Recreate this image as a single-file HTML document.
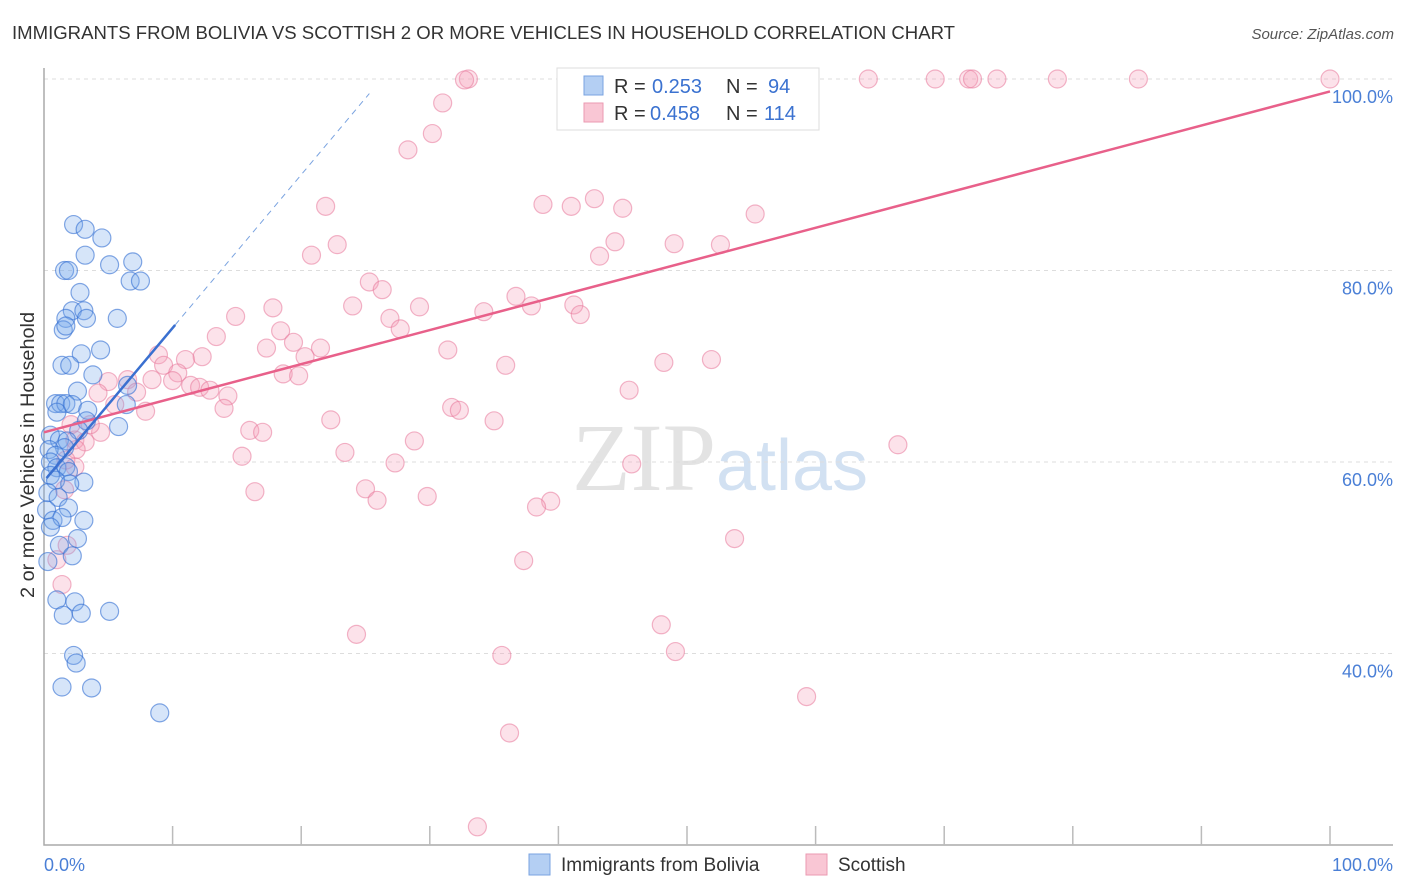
<!DOCTYPE html>
<html><head><meta charset="utf-8"><style>
body{margin:0;background:#fff;font-family:"Liberation Sans",sans-serif}
svg{display:block}
</style></head><body>
<svg id="chart" width="1406" height="892" xmlns="http://www.w3.org/2000/svg">
<text x="12" y="39" font-size="18" fill="#333" textLength="943" lengthAdjust="spacingAndGlyphs">IMMIGRANTS FROM BOLIVIA VS SCOTTISH 2 OR MORE VEHICLES IN HOUSEHOLD CORRELATION CHART</text>
<text x="1394" y="39" font-size="15" fill="#555" text-anchor="end" font-style="italic">Source: ZipAtlas.com</text>
<text x="720" y="490" font-size="96" fill="#ddd" text-anchor="middle" font-family="Liberation Serif" opacity="0.8">ZIP<tspan fill="#c8daf0" font-family="Liberation Sans" font-size="72">atlas</tspan></text>
<g id="grid"></g>
<g id="axes"></g>
<g id="points"></g>
<g id="trends"></g>
<text transform="translate(34,455) rotate(-90)" font-size="19" fill="#333" text-anchor="middle" textLength="286" lengthAdjust="spacingAndGlyphs">2 or more Vehicles in Household</text>
<g>
<rect x="557" y="68" width="262" height="62" fill="#fff" stroke="#ddd"/>
<rect x="584" y="76" width="19" height="19" fill="#b4cff3" stroke="#7aa3e0"/>
<rect x="584" y="103" width="19" height="19" fill="#f9c6d4" stroke="#eb9ab2"/>
<text x="614" y="93" font-size="20" fill="#333">R = <tspan fill="#3b72d0" x="652">0.253</tspan><tspan x="726">N = </tspan><tspan fill="#3b72d0" x="768">94</tspan></text>
<text x="614" y="120" font-size="20" fill="#333">R = <tspan fill="#3b72d0" x="650">0.458</tspan><tspan x="726">N = </tspan><tspan fill="#3b72d0" x="764">114</tspan></text>
</g>
<g>
<rect x="529" y="854" width="21" height="21" fill="#b4cff3" stroke="#7aa3e0"/>
<text x="561" y="871" font-size="19" fill="#333">Immigrants from Bolivia</text>
<rect x="806" y="854" width="21" height="21" fill="#f9c6d4" stroke="#eb9ab2"/>
<text x="838" y="871" font-size="19" fill="#333">Scottish</text>
</g>
</svg>
<script>
const blueX=[2.3,3.2,4.5,1.6,1.9,5.1,6.9,6.7,7.5,3.2,2.8,2.2,3.1,1.7,5.7,3.3,1.5,1.7,4.4,2.9,1.4,2.0,3.8,2.6,6.5,0.9,1.3,1.7,2.2,1.0,3.4,6.4,3.3,5.8,2.7,0.5,1.2,1.8,1.6,0.4,0.9,0.5,1.0,1.7,1.9,3.1,0.5,0.9,2.0,0.3,1.1,1.9,0.2,0.7,1.4,3.1,0.5,2.6,1.2,2.2,0.3,1.0,1.5,2.4,2.9,5.1,2.3,2.5,1.4,3.7,9.0];
const blueY=[84.8,84.3,83.4,80.0,80.0,80.6,80.9,78.9,78.9,81.6,77.7,75.8,75.8,75.0,75.0,75.0,73.8,74.2,71.7,71.3,70.1,70.1,69.1,67.4,68.0,66.1,66.1,66.1,66.0,65.2,65.4,66.0,64.3,63.7,63.3,62.8,62.3,62.2,61.5,61.3,60.7,60.0,59.4,59.5,59.0,57.9,58.6,58.1,57.7,56.8,56.3,55.2,55.0,53.9,54.2,53.9,53.2,52.0,51.3,50.2,49.6,45.6,44.0,45.4,44.2,44.4,39.8,39.0,36.5,36.4,33.8];
const pinkX=[33.0,32.7,52.2,54.5,58.8,64.1,69.3,71.9,72.2,74.1,78.8,85.1,100,47.4,31.0,30.2,28.3,21.9,20.8,22.8,38.8,41.0,42.8,45.0,44.4,43.2,49.0,52.6,55.3,25.3,26.3,24.0,17.8,14.9,26.9,29.2,27.7,18.4,19.4,17.3,21.5,20.3,34.2,36.7,37.9,41.2,41.7,13.4,8.9,11.0,9.3,12.3,10.4,18.6,19.8,31.4,35.9,48.2,51.9,5.0,6.5,7.2,8.4,11.4,12.1,12.9,14.3,10.0,4.2,7.9,5.5,14.0,45.5,31.7,32.3,22.3,35.0,16.0,17.0,28.8,2.4,3.2,4.4,2.5,23.4,15.4,27.3,45.7,66.4,16.4,25.0,25.9,29.8,39.4,38.3,1.6,1.8,37.3,53.7,24.3,48.0,49.1,35.6,59.3,36.2,33.7,1.0,1.4,2.4,1.7,2.1,3.6];
const pinkY=[100,99.9,100,100,100,100,100,100,100,100,100,100,100,95.9,97.5,94.3,92.6,86.7,81.6,82.7,86.9,86.7,87.5,86.5,83.0,81.5,82.8,82.7,85.9,78.8,78.0,76.3,76.1,75.2,75.0,76.2,73.9,73.7,72.5,71.9,71.9,71.0,75.7,77.3,76.3,76.4,75.4,73.1,71.2,70.7,70.1,71.0,69.3,69.2,69.0,71.7,70.1,70.4,70.7,68.4,68.6,67.3,68.6,68.0,67.8,67.5,66.9,68.5,67.2,65.3,66.0,65.6,67.5,65.7,65.4,64.4,64.3,63.3,63.1,62.2,62.3,62.1,63.1,61.3,61.0,60.6,59.9,59.8,61.8,56.9,57.2,56.0,56.4,55.9,55.3,57.1,51.3,49.7,52.0,42.0,43.0,40.2,39.8,35.5,31.7,21.9,49.8,47.2,59.5,60.2,63.9,63.9];
const yTicks=[100,80,60,40];
const yTickLabels=["100.0%","80.0%","60.0%","40.0%"];
const blueTrend=[58.0,1.6];
const pinkTrend=[63.1,0.356];
const NS="http://www.w3.org/2000/svg";
const sx=v=>44+v*12.86;
const sy=v=>79+(100-v)*9.575;
function mk(tag,attrs,parent){const e=document.createElementNS(NS,tag);for(const k in attrs)e.setAttribute(k,attrs[k]);parent.appendChild(e);return e;}
const grid=document.getElementById('grid'),axes=document.getElementById('axes'),pts=document.getElementById('points'),tr=document.getElementById('trends');
yTicks.forEach((t,i)=>{
 const l=mk('line',{x1:44,x2:1393,y1:sy(t),y2:sy(t),stroke:'#ddd','stroke-dasharray':'4,4'},grid);
 
 
 const tx=mk('text',{x:1393,y:sy(t)+24,'font-size':18,fill:'#4a7fd6','text-anchor':'end'},axes);
 tx.textContent=yTickLabels[i];
 
 
});
const ax=mk('path',{d:'M44,68 V845 H1393',fill:'none',stroke:'#aaa','stroke-width':1.5},axes);


for(let i=1;i<=10;i++){
 const t=mk('line',{x1:sx(i*10),x2:sx(i*10),y1:826,y2:845,stroke:'#bbb','stroke-width':1.5},axes);
 
 
}
const x0=mk('text',{x:44,y:871,'font-size':18,fill:'#4a7fd6'},axes);x0.textContent='0.0%';


const x1=mk('text',{x:1393,y:871,'font-size':18,fill:'#4a7fd6','text-anchor':'end'},axes);x1.textContent='100.0%';


pinkX.forEach((x,i)=>{
 const c=mk('circle',{cx:sx(x),cy:sy(pinkY[i]),r:9,fill:'rgba(246,160,186,0.3)',stroke:'rgba(232,120,155,0.55)','stroke-width':1.2},pts);
 
 
});
blueX.forEach((x,i)=>{
 const c=mk('circle',{cx:sx(x),cy:sy(blueY[i]),r:9,fill:'rgba(120,170,235,0.3)',stroke:'rgba(50,110,210,0.6)','stroke-width':1.2},pts);
 
 
});
const pl=mk('line',{x1:sx(0),y1:sy(pinkTrend[0]),x2:sx(100),y2:sy(pinkTrend[0]+pinkTrend[1]*100),stroke:'#e8608a','stroke-width':2.5},tr);


const bl=mk('line',{x1:sx(0.2),y1:sy(blueTrend[0]+blueTrend[1]*0.2),x2:sx(10.2),y2:sy(blueTrend[0]+blueTrend[1]*10.2),stroke:'#3a70d0','stroke-width':2.5},tr);


const bd=mk('line',{x1:sx(10.2),y1:sy(blueTrend[0]+blueTrend[1]*10.2),x2:sx(25.3),y2:sy(blueTrend[0]+blueTrend[1]*25.3),stroke:'#7aa3e0','stroke-width':1,'stroke-dasharray':'6,5'},tr);


</script>
</body></html>
